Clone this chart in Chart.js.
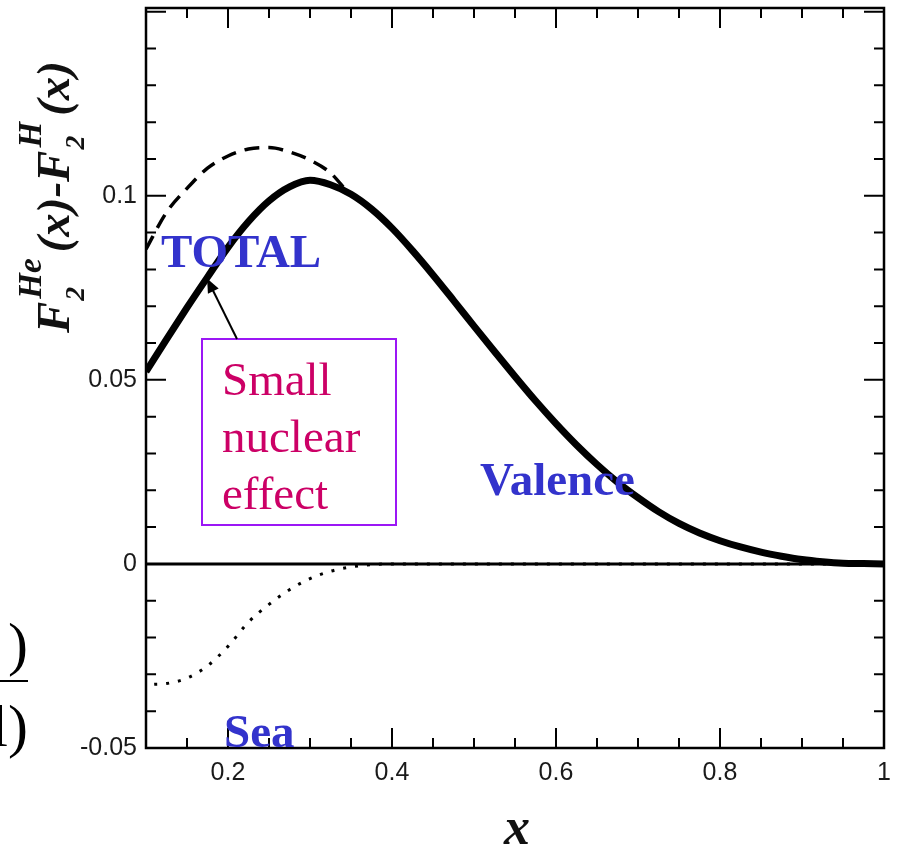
<!DOCTYPE html>
<html>
<head>
<meta charset="utf-8">
<script src="https://cdn.jsdelivr.net/npm/chart.js@4.4.1/dist/chart.umd.min.js"></script>
<style>
    html, body { margin: 0; padding: 0; background: #ffffff; }
    #wrap { width: 897px; height: 847px; }
</style>
</head>
<body>
<div id="wrap"><canvas id="f2Chart" width="897" height="847"></canvas></div>
<script>
(function(){
    "use strict";

    // Solid curve (valence / total)
    const valenceX = [0.10, 0.125, 0.15, 0.175, 0.20, 0.225, 0.25, 0.275, 0.30, 0.325, 0.35, 0.375, 0.40, 0.425, 0.45, 0.475, 0.50, 0.525, 0.55, 0.575, 0.60, 0.625, 0.65, 0.675, 0.70, 0.725, 0.75, 0.775, 0.80, 0.825, 0.85, 0.875, 0.90, 0.925, 0.95, 0.975, 1.00];
    const valenceY = [0.0522, 0.0610, 0.0696, 0.0779, 0.0860, 0.0930, 0.0986, 0.1024, 0.1042, 0.1030, 0.1004, 0.0964, 0.0912, 0.0851, 0.0785, 0.0716, 0.0646, 0.0577, 0.0509, 0.0443, 0.0381, 0.0323, 0.0270, 0.0222, 0.0180, 0.0142, 0.0110, 0.0084, 0.0063, 0.0046, 0.0032, 0.0021, 0.0012, 0.0006, 0.0002, 0.0001, 0.0];

    // Dashed curve (without the nuclear effect)
    const dashedX = [0.10, 0.125, 0.15, 0.175, 0.20, 0.225, 0.25, 0.275, 0.30, 0.325, 0.345];
    const dashedY = [0.0855, 0.0955, 0.1020, 0.1075, 0.1108, 0.1127, 0.1131, 0.1119, 0.1097, 0.1062, 0.1012];

    // Dotted curve (sea)
    const seaX = [0.11, 0.125, 0.15, 0.175, 0.20, 0.225, 0.25, 0.275, 0.30, 0.325, 0.35, 0.375, 0.40, 0.50, 0.60, 0.70, 0.80, 0.90, 1.00];
    const seaY = [-0.0327, -0.0325, -0.0310, -0.0277, -0.0224, -0.0158, -0.0110, -0.0070, -0.0040, -0.0020, -0.0008, -0.0002, 0, 0, 0, 0, 0, 0, 0];

    // Axes
    const xMin = 0.1, xMax = 1.0, xMinorStep = 0.05;
    const yMin = -0.05, yMax = 0.151, yMinorStep = 0.01;
    const xMajorTicks = [0.2, 0.4, 0.6, 0.8, 1.0];
    const xTickLabels = ['0.2', '0.4', '0.6', '0.8', '1'];
    const yMajorTicks = [-0.05, 0, 0.05, 0.1, 0.15];
    const yTickLabels = { '-0.05': '-0.05', '0': '0', '0.05': '0.05', '0.1': '0.1' };

    const arrowTarget = { x: 0.1745, y: 0.0775 };

    function toPoints(xs, ys) {
        return xs.map((x, i) => ({ x: x, y: ys[i] }));
    }

    function stepTicks(min, max, step) {
        const out = [];
        const n = Math.round((max - min) / step);
        for (let i = 0; i <= n; i++) {
            out.push({ value: Math.round((min + i * step) * 1000) / 1000 });
        }
        return out;
    }

    function isMajor(list, v) {
        return list.some(m => Math.abs(m - v) < 1e-6);
    }

    // Inward ticks on all four sides, frame and the zero line
    const framePlugin = {
        id: 'frame',
        beforeDatasetsDraw(chart) {
            const ctx = chart.ctx, a = chart.chartArea;
            const y0 = chart.scales.y.getPixelForValue(0);
            ctx.save();
            ctx.strokeStyle = '#000';
            ctx.lineWidth = 3;
            ctx.beginPath();
            ctx.moveTo(a.left, y0);
            ctx.lineTo(a.right, y0);
            ctx.stroke();
            ctx.restore();
        },
        afterDatasetsDraw(chart) {
            const ctx = chart.ctx, a = chart.chartArea;
            const xs = chart.scales.x, ys = chart.scales.y;
            ctx.save();
            ctx.strokeStyle = '#000';
            ctx.lineWidth = 2;
            xs.ticks.forEach(t => {
                const px = xs.getPixelForValue(t.value);
                const len = isMajor(xMajorTicks, t.value) ? 20 : 10;
                ctx.beginPath();
                ctx.moveTo(px, a.bottom); ctx.lineTo(px, a.bottom - len);
                ctx.moveTo(px, a.top); ctx.lineTo(px, a.top + len);
                ctx.stroke();
            });
            ys.ticks.forEach(t => {
                const py = ys.getPixelForValue(t.value);
                const len = isMajor(yMajorTicks, t.value) ? 20 : 10;
                ctx.beginPath();
                ctx.moveTo(a.left, py); ctx.lineTo(a.left + len, py);
                ctx.moveTo(a.right, py); ctx.lineTo(a.right - len, py);
                ctx.stroke();
            });
            ctx.lineWidth = 2.5;
            ctx.strokeRect(a.left, a.top, a.right - a.left, a.bottom - a.top);
            ctx.restore();
        }
    };

    // Axis titles, curve labels, the boxed note and the cut formula at the left edge
    const textPlugin = {
        id: 'texts',
        afterDraw(chart) {
            const ctx = chart.ctx;
            const xs = chart.scales.x, ys = chart.scales.y;
            const serif = '"Liberation Serif", "Times New Roman", serif';
            ctx.save();

            // y title: F2^He(x)-F2^H(x), rotated
            ctx.save();
            ctx.translate(69, 333);
            ctx.rotate(-Math.PI / 2);
            ctx.fillStyle = '#111';
            ctx.textBaseline = 'alphabetic';
            const big = 'italic bold 47px ' + serif;
            const small = 'italic bold 33px ' + serif;
            let cx = 0;
            const parts = [
                { t: 'F' },
                { sup: 'He', sub: '2' },
                { t: '(x)-F' },
                { sup: 'H', sub: '2' },
                { t: '(x)' }
            ];
            parts.forEach(p => {
                if (p.t) {
                    ctx.font = big;
                    ctx.fillText(p.t, cx, 0);
                    cx += ctx.measureText(p.t).width + 3;
                } else {
                    ctx.font = small;
                    ctx.fillText(p.sup, cx, -28);
                    const w1 = ctx.measureText(p.sup).width;
                    ctx.font = 'italic bold 28px ' + serif;
                    ctx.fillText(p.sub, cx - 2, 15);
                    const w2 = ctx.measureText(p.sub).width;
                    cx += Math.max(w1, w2) + 6;
                }
            });
            ctx.restore();

            // x title
            ctx.font = 'italic bold 52px ' + serif;
            ctx.fillStyle = '#111';
            ctx.textAlign = 'center';
            ctx.textBaseline = 'alphabetic';
            ctx.fillText('x', 517, 844);

            // curve labels
            ctx.textAlign = 'left';
            ctx.fillStyle = '#3333cc';
            ctx.font = 'bold 47px ' + serif;
            ctx.fillText('TOTAL', 161, 267);
            ctx.fillText('Valence', 480, 495);
            ctx.fillText('Sea', 224, 747);

            // boxed note
            ctx.strokeStyle = '#9b17f5';
            ctx.lineWidth = 2;
            ctx.strokeRect(202, 339, 194, 186);
            ctx.fillStyle = '#cc0066';
            ctx.font = '47px ' + serif;
            ctx.fillText('Small', 222, 395);
            ctx.fillText('nuclear', 222, 452);
            ctx.fillText('effect', 222, 509);

            // arrow from the box to the solid curve
            const tx = xs.getPixelForValue(arrowTarget.x);
            const ty = ys.getPixelForValue(arrowTarget.y);
            const sx = 237, sy = 339;
            const ang = Math.atan2(ty - sy, tx - sx);
            ctx.strokeStyle = '#000';
            ctx.fillStyle = '#000';
            ctx.lineWidth = 2;
            ctx.beginPath();
            ctx.moveTo(sx, sy);
            ctx.lineTo(tx - Math.cos(ang) * 8, ty - Math.sin(ang) * 8);
            ctx.stroke();
            ctx.beginPath();
            ctx.moveTo(tx, ty);
            ctx.lineTo(tx - 14 * Math.cos(ang) + 6 * Math.sin(ang), ty - 14 * Math.sin(ang) - 6 * Math.cos(ang));
            ctx.lineTo(tx - 14 * Math.cos(ang) - 6 * Math.sin(ang), ty - 14 * Math.sin(ang) + 6 * Math.cos(ang));
            ctx.closePath();
            ctx.fill();

            // piece of a formula cut off at the left edge
            ctx.fillStyle = '#000';
            ctx.font = '60px ' + serif;
            ctx.textAlign = 'right';
            ctx.fillText(')', 28, 664);
            ctx.fillText('l)', 28, 746);
            ctx.fillRect(0, 680, 28, 2);

            ctx.restore();
        }
    };

    function init() {
        const ctx = document.getElementById('f2Chart').getContext('2d');
        new Chart(ctx, {
            type: 'line',
            data: {
                datasets: [{
                    label: 'Sea',
                    data: toPoints(seaX, seaY),
                    borderColor: '#000',
                    borderWidth: 3,
                    borderDash: [3, 9],
                    pointRadius: 0,
                    cubicInterpolationMode: 'monotone',
                    fill: false
                }, {
                    label: 'No nuclear effect',
                    data: toPoints(dashedX, dashedY),
                    borderColor: '#000',
                    borderWidth: 3.5,
                    borderDash: [15, 9],
                    pointRadius: 0,
                    cubicInterpolationMode: 'monotone',
                    fill: false
                }, {
                    label: 'Total',
                    data: toPoints(valenceX, valenceY),
                    borderColor: '#000',
                    borderWidth: 7,
                    pointRadius: 0,
                    cubicInterpolationMode: 'monotone',
                    fill: false
                }]
            },
            options: {
                responsive: false,
                animation: false,
                layout: { padding: { left: 0, top: 8, right: 13, bottom: 0 } },
                plugins: {
                    legend: { display: false },
                    tooltip: { enabled: false }
                },
                scales: {
                    x: {
                        type: 'linear',
                        min: xMin,
                        max: xMax,
                        afterBuildTicks: scale => { scale.ticks = stepTicks(xMin, xMax, xMinorStep); },
                        afterFit: scale => {
                            scale.height = 99;
                            scale.paddingLeft = 0;
                            scale.paddingRight = 0;
                        },
                        grid: { display: false, drawTicks: false },
                        border: { display: false },
                        ticks: {
                            autoSkip: false,
                            maxRotation: 0,
                            padding: 10,
                            color: '#1a1a1a',
                            font: { family: '"Liberation Sans", Arial, sans-serif', size: 25 },
                            callback: function(v) {
                                const i = xMajorTicks.findIndex(m => Math.abs(m - v) < 1e-6);
                                return i >= 0 ? xTickLabels[i] : '';
                            }
                        }
                    },
                    y: {
                        type: 'linear',
                        min: yMin,
                        max: yMax,
                        afterBuildTicks: scale => { scale.ticks = stepTicks(yMin, 0.15, yMinorStep); },
                        afterFit: scale => {
                            scale.width = 146;
                            scale.paddingTop = 0;
                            scale.paddingBottom = 0;
                        },
                        grid: { display: false, drawTicks: false },
                        border: { display: false },
                        ticks: {
                            autoSkip: false,
                            padding: 9,
                            color: '#1a1a1a',
                            font: { family: '"Liberation Sans", Arial, sans-serif', size: 25 },
                            callback: function(v) {
                                const key = String(Math.round(v * 100) / 100);
                                return yTickLabels[key] !== undefined ? yTickLabels[key] : '';
                            }
                        }
                    }
                }
            },
            plugins: [framePlugin, textPlugin]
        });
    }

    init();
})();
</script>
</body>
</html>
